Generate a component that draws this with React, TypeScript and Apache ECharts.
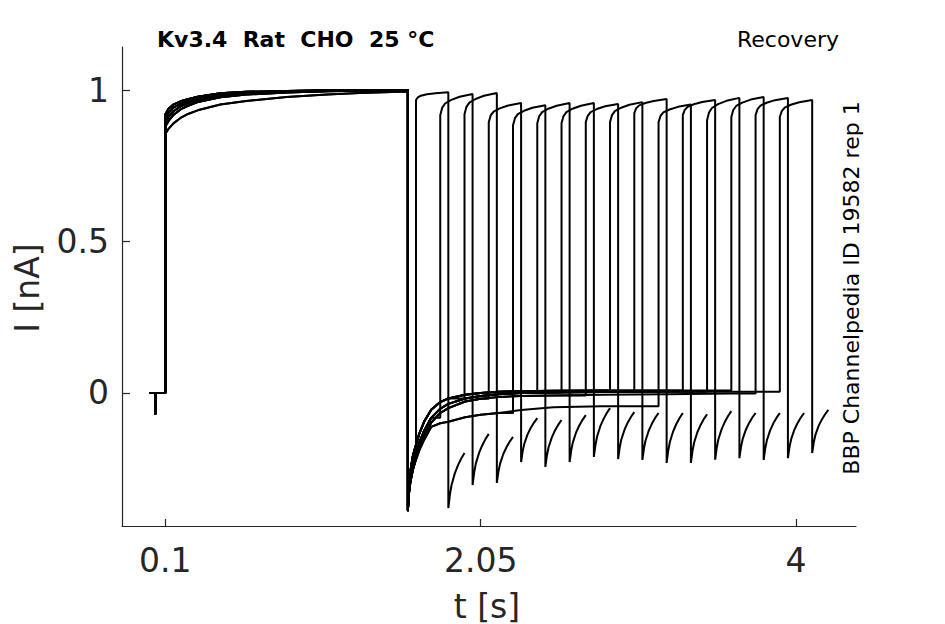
import React, { useEffect, useRef } from "react";
import * as echarts from "echarts";

const X_TICKS = [0.1, 2.05, 4];
const Y_TICKS = [0, 0.5, 1];

// holding level before the prepulse (with small transient)
const HOLD_T = [0, 0.037, 0.038, 0.04, 0.1];
const HOLD_I = [0, 0, -0.07, 0, 0];

// prepulse activation (0.1 s .. 1.6 s)
const PRE_T = [0.1, 0.12, 0.15, 0.2, 0.24, 0.3, 0.44, 0.6, 0.85, 1.1, 1.3, 1.6];
const PRE_A = [0.92, 0.938, 0.952, 0.964, 0.97, 0.978, 0.989, 0.994, 0.997, 0.999, 1.0, 1.0];
const PRE_B = [0.908, 0.925, 0.942, 0.956, 0.963, 0.972, 0.985, 0.991, 0.996, 0.998, 0.999, 1.0];
const PRE_C = [0.895, 0.912, 0.93, 0.948, 0.957, 0.967, 0.981, 0.988, 0.994, 0.997, 0.999, 1.0];
const PRE_D = [0.88, 0.898, 0.918, 0.938, 0.948, 0.96, 0.976, 0.985, 0.992, 0.996, 0.998, 0.999];
const PRE_LOW = [0.855, 0.872, 0.89, 0.91, 0.921, 0.933, 0.952, 0.964, 0.977, 0.985, 0.99, 0.995];

// tail current after the prepulse
const TAIL_T = [1.6, 1.605, 1.615, 1.63, 1.645, 1.67, 1.7, 1.744, 1.8, 1.85, 1.954, 2.05, 2.16, 2.3, 2.5, 2.8, 3.2, 3.6, 4.0];
const TAIL_FAST = [-0.39, -0.32, -0.26, -0.21, -0.18, -0.135, -0.095, -0.055, -0.03, -0.018, -0.006, 0, 0.004, 0.006, 0.007, 0.008, 0.008, 0.008, 0.008];
const TAIL_MID = [-0.385, -0.335, -0.285, -0.24, -0.21, -0.165, -0.125, -0.082, -0.052, -0.036, -0.018, -0.01, -0.004, 0, 0.002, 0.003, 0.004, 0.004, 0.004];
const TAIL_SLOW = [-0.385, -0.34, -0.295, -0.255, -0.225, -0.18, -0.14, -0.098, -0.066, -0.05, -0.028, -0.019, -0.013, -0.01, -0.008, -0.006, -0.004, -0.002, 0];
const TAIL_LOW = [-0.375, -0.335, -0.295, -0.255, -0.228, -0.19, -0.155, -0.112, -0.1, -0.095, -0.08, -0.072, -0.066, -0.056, -0.047, -0.044, -0.028, -0.023, -0.02];

// per sweep (16 sweeps)
const RISE_T = [1.65, 1.8, 1.95, 2.1, 2.25, 2.4, 2.55, 2.7, 2.85, 3.0, 3.15, 3.3, 3.45, 3.6, 3.75, 3.9];
const PRE_KIND = [0, 2, 1, 3, 4, 0, 2, 1, 3, 0, 4, 2, 1, 3, 0, 2];
const TAIL_KIND = [0, 1, 0, 2, 3, 0, 1, 2, 0, 1, 3, 0, 1, 0, 2, 1];
const TEST_START_I = [0.967, 0.917, 0.92, 0.894, 0.884, 0.89, 0.89, 0.894, 0.894, 0.924, 0.894, 0.917, 0.9, 0.911, 0.917, 0.911];
const TEST_END_I = [0.993, 0.987, 0.99, 0.957, 0.95, 0.957, 0.957, 0.954, 0.96, 0.97, 0.952, 0.967, 0.974, 0.977, 0.974, 0.967];
const HOOK_START_I = [-0.38, -0.304, -0.297, -0.228, -0.244, -0.228, -0.211, -0.218, -0.221, -0.231, -0.231, -0.22, -0.215, -0.221, -0.215, -0.198];
const HOOK_END_I = [-0.198, -0.135, -0.145, -0.083, -0.089, -0.073, -0.05, -0.063, -0.066, -0.066, -0.07, -0.06, -0.066, -0.066, -0.066, -0.056];

// shapes of the test pulse and of the tail after it
const TEST_DT = [0, 0.012, 0.03, 0.068, 0.12, 0.2];
const TEST_FRAC = [0, 0.35, 0.55, 0.72, 0.87, 1];
const HOOK_DT = [0, 0.01, 0.02, 0.04, 0.06, 0.08, 0.1];
const HOOK_FRAC = [0, 0.25, 0.42, 0.63, 0.78, 0.9, 1];

const PRE_CURVES = [PRE_A, PRE_B, PRE_C, PRE_D, PRE_LOW];
const TAIL_CURVES = [TAIL_FAST, TAIL_MID, TAIL_SLOW, TAIL_LOW];
const TEST_DUR = 0.2;

function buildSweep(k: number): number[][] {
  const pts: number[][] = [];
  HOLD_T.forEach((t, i) => pts.push([t, HOLD_I[i]]));
  const pre = PRE_CURVES[PRE_KIND[k]];
  PRE_T.forEach((t, i) => pts.push([t, pre[i]]));
  const tail = TAIL_CURVES[TAIL_KIND[k]];
  const rise = RISE_T[k];
  let last = tail[0];
  TAIL_T.forEach((t, i) => {
    if (t < rise) {
      pts.push([t, tail[i]]);
      last = tail[i];
    }
  });
  pts.push([rise, last]);
  const a = TEST_START_I[k];
  const b = TEST_END_I[k];
  TEST_DT.forEach((d, i) => pts.push([rise + d, a + (b - a) * TEST_FRAC[i]]));
  const fall = rise + TEST_DUR;
  const h0 = HOOK_START_I[k];
  const h1 = HOOK_END_I[k];
  HOOK_DT.forEach((d, i) => pts.push([fall + d, h0 + (h1 - h0) * HOOK_FRAC[i]]));
  return pts;
}

const FONT = '"DejaVu Sans", "Noto Sans", sans-serif';
const AX = "#262626";

export default function App() {
  const ref = useRef<HTMLDivElement>(null);
  useEffect(() => {
    if (!ref.current) return;
    const chart = echarts.init(ref.current, undefined, { renderer: "svg" });
    const series = RISE_T.map((_, k) => ({
      type: "line",
      data: buildSweep(k),
      showSymbol: false,
      symbol: "none",
      silent: true,
      lineStyle: { color: "#000", width: 2 },
      z: 2,
    }));
    chart.setOption({
      animation: false,
      backgroundColor: "#fff",
      grid: { left: 122, right: 89, top: 47, bottom: 98, outerBoundsMode: "none" },
      xAxis: {
        type: "value",
        min: -0.168,
        max: 4.371,
        axisLine: { show: true, onZero: false, lineStyle: { color: AX, width: 1.2 } },
        axisTick: { show: true, inside: true, length: 7, customValues: X_TICKS, lineStyle: { color: AX, width: 1.2 } },
        axisLabel: {
          customValues: X_TICKS,
          formatter: (v: number) => String(v),
          fontSize: 33,
          color: AX,
          fontFamily: FONT,
          margin: 18,
        },
        splitLine: { show: false },
      },
      yAxis: {
        type: "value",
        min: -0.439,
        max: 1.142,
        axisLine: { show: true, onZero: false, lineStyle: { color: AX, width: 1.2 } },
        axisTick: { show: true, inside: true, length: 8, customValues: Y_TICKS, lineStyle: { color: AX, width: 1.2 } },
        axisLabel: {
          customValues: Y_TICKS,
          formatter: (v: number) => String(v),
          fontSize: 33,
          color: AX,
          fontFamily: FONT,
          margin: 13,
        },
        splitLine: { show: false },
      },
      graphic: [
        {
          type: "text",
          x: 157,
          y: 39.5,
          style: {
            text: "Kv3.4  Rat  CHO  25 °C",
            font: `bold 22px ${FONT}`,
            fill: "#000",
            align: "left",
            verticalAlign: "middle",
            textAlign: "left",
            textVerticalAlign: "middle",
          },
        },
        {
          type: "text",
          x: 839,
          y: 39,
          style: {
            text: "Recovery",
            font: `22px ${FONT}`,
            fill: "#000",
            align: "right",
            verticalAlign: "middle",
            textAlign: "right",
            textVerticalAlign: "middle",
          },
        },
        {
          type: "text",
          x: 851,
          y: 288,
          rotation: Math.PI / 2,
          style: {
            text: "BBP Channelpedia ID 19582 rep 1",
            font: `22px ${FONT}`,
            fill: "#000",
            align: "center",
            verticalAlign: "middle",
            textAlign: "center",
            textVerticalAlign: "middle",
          },
        },
        {
          type: "text",
          x: 27,
          y: 288,
          rotation: Math.PI / 2,
          style: {
            text: "I [nA]",
            font: `33px ${FONT}`,
            fill: AX,
            align: "center",
            verticalAlign: "middle",
            textAlign: "center",
            textVerticalAlign: "middle",
          },
        },
        {
          type: "text",
          x: 487,
          y: 606,
          style: {
            text: "t [s]",
            font: `33px ${FONT}`,
            fill: AX,
            align: "center",
            verticalAlign: "middle",
            textAlign: "center",
            textVerticalAlign: "middle",
          },
        },
      ],
      series,
    });
    return () => chart.dispose();
  }, []);
  return (
    <div
      ref={ref}
      style={{ position: "fixed", left: 0, top: 0, width: 945, height: 624, background: "#fff" }}
    />
  );
}
